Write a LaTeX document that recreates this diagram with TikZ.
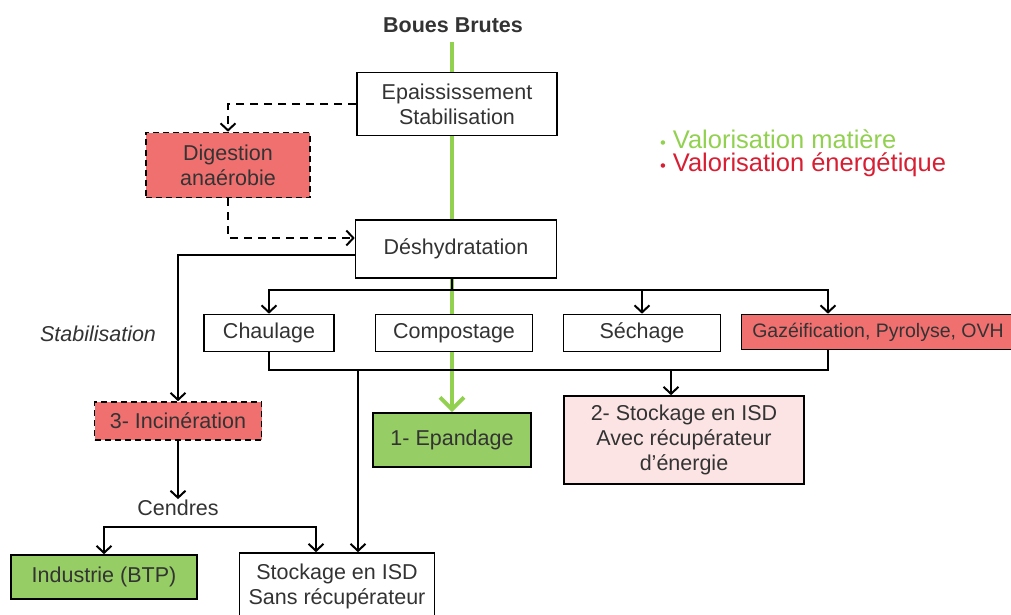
\documentclass[tikz,border=0pt]{standalone}
\usepackage{fontspec}
\setmainfont{Liberation Sans}
\usepackage{tikz}
\usetikzlibrary{arrows.meta,backgrounds}
\definecolor{vertbox}{RGB}{150,205,100}
\definecolor{rougebox}{RGB}{240,112,112}
\definecolor{roseclair}{RGB}{252,228,228}
\definecolor{vertleg}{RGB}{146,208,80}
\definecolor{rougeleg}{RGB}{215,30,50}
\newcommand{\taille}{\fontsize{21.5}{25}\selectfont}
\newcommand{\tailleleg}{\fontsize{25.5}{29}\selectfont}

\begin{document}
\begin{tikzpicture}[x=1pt,y=-1pt,line width=2pt,
    >={Straight Barb[length=7pt,width=15pt]}]
      \tikzstyle{every node}=[font=\taille,align=center,inner sep=0pt,
                              text=black!80]
      \tikzstyle{boite}=[draw,fill=white,line width=1.6pt,minimum height=37pt]
      \tikzstyle{pointille}=[boite,fill=rougebox,dash pattern=on 6pt off 4pt]
      \tikzstyle{tirets}=[dash pattern=on 8pt off 6pt]
      \useasboundingbox (0,0) rectangle (1011,615);

      % les etapes
      \node (boues) at (453,25) {\bfseries Boues Brutes};
      \node[boite,minimum width=200pt,minimum height=63pt] (epaiss) at (457,104) {Epaississement\\Stabilisation};
      \node[pointille,minimum width=164pt,minimum height=65pt] (digest) at (228,165) {Digestion\\anaérobie};
      \node[boite,minimum width=201pt,minimum height=58pt] (deshyd) at (456,249) {Déshydratation};
      \node[boite,minimum width=130pt] (chaul) at (269,333) {Chaulage};
      \node[boite,minimum width=157pt] (compost) at (454,333) {Compostage};
      \node[boite,minimum width=157pt] (sechage) at (642,333) {Séchage};
      \node[boite,fill=rougebox,minimum width=273pt,minimum height=35pt,
            font=\fontsize{19.5}{23}\selectfont] (gazeif) at (878,332) {Gazéification, Pyrolyse, OVH};
      \node[pointille,minimum width=167pt,minimum height=38pt] (incin) at (178,421) {3- Incinération};
      \node[boite,fill=vertbox,minimum width=158pt,minimum height=54pt] (epand) at (452,440) {1- Epandage};
      \node[boite,fill=roseclair,minimum width=240pt,minimum height=88pt] (stockA) at (684,440) {2- Stockage en ISD\\Avec récupérateur\\d'énergie};
      \node (cendres) at (178,508) {Cendres};
      \node[boite,fill=vertbox,minimum width=186pt,minimum height=44pt] (industrie) at (104,577) {Industrie (BTP)};
      \node[boite,minimum width=195pt,minimum height=66pt] (stockS) at (337,586) {Stockage en ISD\\Sans récupérateur};
      \node[font=\taille\itshape] (stabil) at (98,334) {Stabilisation};

      % legende
      \node[anchor=west,text=vertleg,font=\tailleleg] (legmat) at (659,139)
          {\scalebox{0.65}{\textbullet} Valorisation matière};
      \node[anchor=west,text=rougeleg,font=\tailleleg] (legener) at (659,165)
          {\scalebox{0.65}{\textbullet} Valorisation énergétique};

      % filiere verte
      \begin{scope}[on background layer]
        \coordinate (depart) at (452,42);
        \draw[vertleg,line width=4pt,-{Straight Barb[length=12pt,width=24pt]}]
            (depart) -- (depart |- epand.north);
      \end{scope}

      % liaisons
      \draw[tirets,->] (epaiss.west) -| (digest.north);
      \draw[tirets,->] (digest.south) |- ([yshift=11pt]deshyd.west);
      \draw[->] ([yshift=-6pt]deshyd.west) -| (incin.north);

      \coordinate (haut) at (452,290);
      \draw (haut) -- (haut |- deshyd.south);
      \draw[->] (haut) -| (chaul.north);
      \draw[->] (haut) -| (sechage.north);
      \draw[->] (haut) -| ([xshift=-50pt]gazeif.north);

      \coordinate (bas) at (671,370);
      \coordinate (bas2) at (358,370);
      \draw (chaul.south) |- (bas) -| ([xshift=-50pt]gazeif.south);
      \draw[->] (bas) -- (bas |- stockA.north);
      \draw[->] (bas2) -- (bas2 |- stockS.north);

      \draw[->] (incin) -- (cendres);
      \coordinate (cbas) at (178,527);
      \draw[->] (cbas) -| (industrie.north);
      \draw[->] (cbas) -| ([xshift=-21pt]stockS.north);
\end{tikzpicture}
\end{document}
